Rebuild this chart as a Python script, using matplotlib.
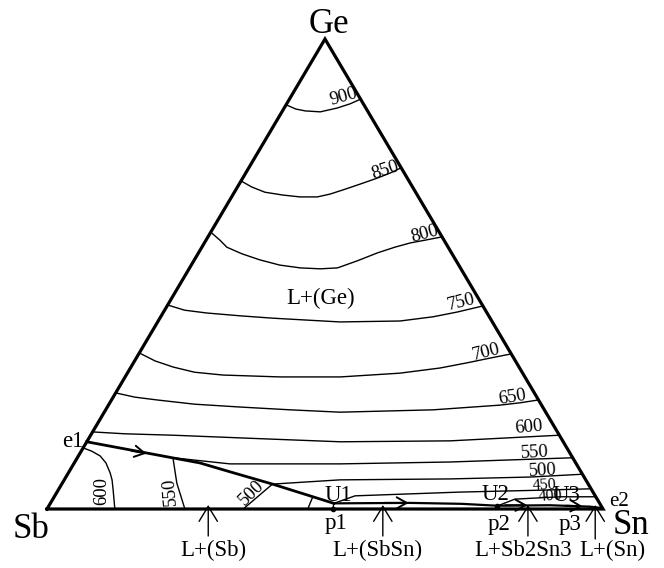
import numpy as np
import matplotlib.pyplot as plt

plt.rcParams['font.family'] = ['Liberation Serif', 'DejaVu Serif']

# liquidus isotherms of the Ge field, points as (at.% Sn, at.% Ge)
iso_900 = [(0, 86.0), (2.2, 85.1), (4.1, 84.7), (6.9, 84.5), (9.5, 85.3), (11.4, 86.2), (12.8, 87.2)]
iso_850 = [(0, 69.8), (2.6, 68.5), (5.5, 67.4), (9.0, 66.8), (12.3, 66.4), (15.4, 66.4), (17.4, 67.0),
           (19.3, 67.9), (21.7, 69.1), (24.2, 70.4), (26.0, 71.5), (27.4, 72.6)]
iso_800 = [(0, 58.9), (2.5, 57.2), (4.5, 55.7), (7.9, 54.3), (11.8, 53.0), (15.9, 51.9), (19.9, 51.3),
           (23.6, 51.1), (26.6, 51.3), (29.4, 52.8), (32.2, 54.5), (34.7, 55.7), (37.0, 56.6),
           (39.4, 57.2), (42.1, 57.9)]
iso_750 = [(0, 43.4), (3.6, 42.3), (7.9, 41.7), (14.2, 41.1), (20.3, 40.6), (32.8, 39.8), (43.5, 40.0),
           (49.0, 40.9), (52.8, 41.9), (56.8, 43.2)]
iso_700 = [(0, 33.2), (3.7, 31.5), (7.6, 30.2), (12.0, 29.1), (17.4, 28.5), (27.9, 28.1), (38.7, 28.1),
           (49.0, 28.9), (55.7, 30.0), (60.0, 31.1), (63.6, 32.1), (67.0, 33.0)]
iso_650 = [(0, 24.7), (3.9, 23.8), (8.2, 23.2), (15.4, 22.3), (23.8, 21.7), (33.2, 21.1), (42.4, 20.6),
           (58.9, 21.1), (70.4, 22.1), (73.8, 22.6), (76.8, 23.2)]
iso_600 = [(0, 16.4), (6.0, 16.0), (14.8, 15.7), (30.0, 15.0), (45.6, 14.3), (65.3, 14.5), (84.3, 15.7)]
iso_550 = [(17.2, 10.9), (28.1, 9.6), (47.9, 9.6), (67.5, 10.0), (89.1, 10.9)]
iso_500 = [(37.9, 5.3), (49.6, 6.2), (69.3, 6.4), (83.5, 6.8), (92.6, 7.4)]
iso_450 = [(51.0, 1.2), (54.0, 2.8), (72.5, 3.6), (86.7, 4.0), (95.7, 4.3)]
iso_400 = [(80.6, 0.6), (83.1, 2.1), (91.0, 2.6), (97.4, 2.6)]
ge_temps = [900, 850, 800, 750, 700, 650, 600, 550, 500, 450, 400]

# isotherms of the (Sb) field
sb_600 = [(0, 13.0), (1.9, 12.3), (3.9, 11.3), (5.7, 9.8), (7.5, 7.7), (8.6, 6.2), (9.9, 4.0), (12.2, 0)]
sb_550 = [(17.2, 10.9), (20.6, 5.5), (24.8, 0)]
sb_500 = [(37.9, 5.3), (35.3, 0)]
sb_450 = [(46.5, 2.6), (46.9, 0)]
sb_temps = [600, 550, 500]

# univariant lines and invariant points
e1_u1 = [(0, 14.3), (22.6, 9.8), (29.0, 7.9), (37.9, 5.3), (51.0, 1.2)]
u1_e2 = [(51.0, 1.2), (64.6, 1.3), (74.0, 1.1), (80.6, 0.7), (90.0, 0.8), (97.4, 0.5), (99.8, 0.2)]
inv_names = ['e1', 'U1', 'U2', 'U3', 'e2']
inv_pts = [(0, 14.3), (51.0, 1.2), (80.6, 0.7), (97.4, 0.5), (99.8, 0.2)]
per_names = ['p1', 'p2', 'p3']
per_pts = [(51.4, 0), (80.9, 0), (97.7, 0)]

# primary fields marked on the Sb-Sn side
field_names = ['L+(Sb)', 'L+(SbSn)', 'L+Sb2Sn3', 'L+(Sn)']
field_sn = [29.0, 60.4, 86.5, 98.6]


def tern(pts):
    sn, ge = np.array(pts, dtype=float).T / 100.0
    return sn + ge / 2.0, ge


fig = plt.figure(figsize=(6.64, 5.68), dpi=100)
ax = fig.add_axes([47 / 664, 59 / 568, 556 / 664, 470 / 568])
ax.set_xlim(0, 1)
ax.set_ylim(0, 1)
ax.axis('off')

# triangle
tx, ty = tern([(0, 0), (100, 0), (0, 100), (0, 0)])
ax.plot(tx, ty, color='black', lw=2.3, solid_joinstyle='miter', clip_on=False, zorder=5)

ge_lines = [iso_900, iso_850, iso_800, iso_750, iso_700, iso_650,
            iso_600, iso_550, iso_500, iso_450, iso_400]
for line in ge_lines:
    x, y = tern(line)
    ax.plot(x, y, color='black', lw=1.0, clip_on=False, solid_joinstyle='round')
for line in [sb_600, sb_550, sb_500, sb_450]:
    x, y = tern(line)
    ax.plot(x, y, color='black', lw=1.0, clip_on=False, solid_joinstyle='round')

x, y = tern(e1_u1)
ax.plot(x, y, color='black', lw=2.0, clip_on=False)
x, y = tern(u1_e2)
ax.plot(x, y, color='black', lw=1.6, clip_on=False)

# peritectic lines p -> U
for p, u in zip(per_pts, inv_pts[1:4]):
    x, y = tern([p, u])
    ax.plot(x, y, color='black', lw=1.0, clip_on=False)


# direction of falling temperature along the valleys
def chevron(a, b):
    (x0, x1), (y0, y1) = tern([a, b])
    ax.annotate('', xy=(x1, y1), xytext=(x0, y0),
                arrowprops=dict(arrowstyle='->,head_length=0.8,head_width=0.45',
                                lw=1.4, mutation_scale=9, shrinkA=0, shrinkB=0))


chevron((9.0, 12.4), (12.0, 11.8))
chevron((60.0, 1.3), (64.4, 1.3))
chevron((82.0, 0.8), (86.0, 0.8))
chevron((93.0, 0.7), (96.0, 0.6))

x, y = tern([per_pts[0], inv_pts[2]])
ax.plot(x, y, 'o', color='black', ms=3, clip_on=False)

# isotherm labels: (Sn, Ge, rotation)
ge_lab = [(9.5, 87.6, 16), (24.8, 72.1, 18), (38.6, 58.5, 15), (52.6, 44.0, 14),
          (62.4, 33.4, 14), (71.8, 23.8, 9), (77.9, 17.4, 5), (81.8, 12.0, 3),
          (85.1, 8.1, 3), (87.0, 5.1, 3), (89.1, 2.8, 4)]
for t, (sn, ge, rot) in zip(ge_temps, ge_lab):
    x, y = tern([(sn, ge)])
    fs = 11.5 if t <= 450 else 13.5
    ax.text(x[0], y[0], str(t), fontsize=fs, rotation=rot, ha='center', va='center',
            rotation_mode='anchor')

sb_lab = [(8.0, 3.8, 90), (20.2, 3.8, 95), (35.1, 3.4, 45)]
for t, (sn, ge, rot) in zip(sb_temps, sb_lab):
    x, y = tern([(sn, ge)])
    ax.text(x[0], y[0], str(t), fontsize=13.5, rotation=rot, ha='center', va='center',
            rotation_mode='anchor')

x, y = tern([(26.8, 44.9)])
ax.text(x[0], y[0], 'L+(Ge)', fontsize=16.5, ha='center', va='center')

# element corners
ax.text(0.507, 1 + 6 / 470, 'Ge', fontsize=25, ha='center', va='baseline')
ax.text(-16 / 556, -29 / 470, 'Sb', fontsize=25, ha='center', va='baseline')
ax.text(1 + 28 / 556, -25 / 470, 'Sn', fontsize=25, ha='center', va='baseline')

# invariant point labels, offsets in pixels
inv_off = [(-3, -5, 'right'), (5, 2, 'center'), (-2, 6, 'center'), (-23, 6, 'center'), (7, 2, 'left')]
for name, pt, (dx, dy, ha) in zip(inv_names, inv_pts, inv_off):
    x, y = tern([pt])
    fs = 15 if name == 'e2' else 16.5
    ax.annotate(name, (x[0], y[0]), xytext=(dx, dy), textcoords='offset pixels',
                fontsize=fs, ha=ha, va='baseline', annotation_clip=False)

per_off = [(3, -20), (2, -21), (-20, -21)]
for name, pt, (dx, dy) in zip(per_names, per_pts, per_off):
    x, y = tern([pt])
    ax.annotate(name, (x[0], y[0]), xytext=(dx, dy), textcoords='offset pixels',
                fontsize=16.5, ha='center', va='baseline', annotation_clip=False)

# field arrows under the Sb-Sn side
for name, sn in zip(field_names, field_sn):
    x = sn / 100.0
    tail = -27 / 470 if name != 'L+(Sn)' else -30 / 470
    ax.annotate('', xy=(x, 4 / 470), xytext=(x, tail), annotation_clip=False,
                arrowprops=dict(arrowstyle='->,head_length=0.9,head_width=0.55',
                                lw=1.0, mutation_scale=12, shrinkA=0, shrinkB=0))
    lx = x + 5 / 556 if name == 'L+(Sb)' else x - 5 / 556
    if name == 'L+(Sn)':
        lx = x + 17 / 556
    ax.text(lx, -47 / 470, name, fontsize=16.5, ha='center', va='baseline', clip_on=False)

fig.savefig('out.png', dpi=100)
